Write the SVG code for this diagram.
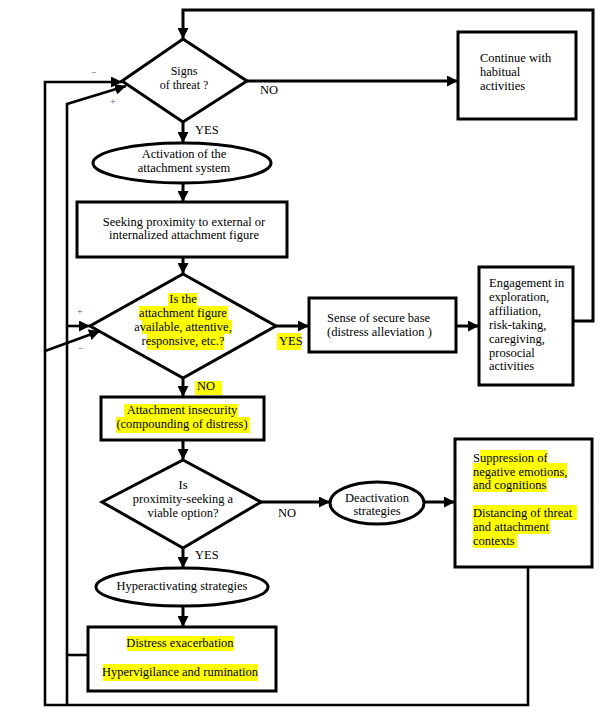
<svg xmlns="http://www.w3.org/2000/svg" width="610" height="718" viewBox="0 0 610 718">
<style>
text{font-family:"Liberation Serif","Times New Roman",serif;font-size:12.5px;fill:#000}
.c{text-anchor:middle}
.s{font-size:12px}
.pm{font-size:10px;fill:#555577}
.shape{fill:#fff;stroke:#000;stroke-width:3}
.hl{fill:#ffff00}
.ln{fill:none;stroke:#000;stroke-width:3}
.fb{fill:none;stroke:#000;stroke-width:2.6}
</style>
<defs>
<marker id="ah" viewBox="0 0 10 10" refX="10" refY="5" markerWidth="11" markerHeight="11" markerUnits="userSpaceOnUse" orient="auto">
<path d="M0,0 L10,5 L0,10 Z" fill="#000"/>
</marker>
</defs>
<rect width="610" height="718" fill="#fff"/>

<g id="connectors">
<path class="ln" d="M573,321 H593 V10 H183 V39" marker-end="url(#ah)"/>
<path class="ln" d="M247,81 H458" marker-end="url(#ah)"/>
<path class="ln" d="M183,122 V143" marker-end="url(#ah)"/>
<path class="ln" d="M183,183 V202" marker-end="url(#ah)"/>
<path class="ln" d="M183,257 V274" marker-end="url(#ah)"/>
<path class="ln" d="M276,326 H309" marker-end="url(#ah)"/>
<path class="ln" d="M456,326 H479" marker-end="url(#ah)"/>
<path class="ln" d="M183,378 V397" marker-end="url(#ah)"/>
<path class="ln" d="M183,440 V460" marker-end="url(#ah)"/>
<path class="ln" d="M261,502 H330" marker-end="url(#ah)"/>
<path class="ln" d="M425,502 H455" marker-end="url(#ah)"/>
<path class="ln" d="M183,548 V568" marker-end="url(#ah)"/>
<path class="ln" d="M183,606 V627" marker-end="url(#ah)"/>
<path class="fb" d="M88,655 H67"/>
<path class="fb" d="M67,705 V104 L126,86" marker-end="url(#ah)"/>
<path class="fb" d="M67,326 H90" marker-end="url(#ah)"/>
<path class="fb" d="M528,567 V705 H45 V82 H122" marker-end="url(#ah)"/>
<path class="fb" d="M45,351 L100,331" marker-end="url(#ah)"/>
<text class="pm" x="91" y="76">−</text>
<text class="pm" x="110" y="105">+</text>
<text class="pm" x="77" y="315">+</text>
<text class="pm" x="78" y="352">−</text>
<text x="260" y="94">NO</text>
<text x="195" y="134">YES</text>
<rect class="hl" x="277" y="333" width="24" height="17"/>
<text x="279" y="345">YES</text>
<rect class="hl" x="195" y="381" width="27" height="14"/>
<text x="197" y="390">NO</text>
<text x="278" y="517">NO</text>
<text x="195" y="559">YES</text>
</g>

<g id="threat">
<polygon class="shape" points="183,39 247,81 183,122 122,81"/>
<text class="c s" x="184" y="75">Signs</text>
<text class="c s" x="184" y="89">of threat ?</text>
</g>

<g id="continue">
<rect class="shape" x="458" y="32" width="118" height="87"/>
<text x="480" y="62">Continue with</text>
<text x="480" y="76">habitual</text>
<text x="480" y="90">activities</text>
</g>

<g id="activation">
<ellipse class="shape" cx="182" cy="163" rx="89" ry="20"/>
<text class="c" x="184" y="158">Activation of the</text>
<text class="c" x="184" y="172">attachment system</text>
</g>

<g id="seeking">
<rect class="shape" x="77" y="202" width="210" height="55"/>
<text class="c" x="184" y="226">Seeking proximity to external or</text>
<text class="c" x="184" y="239">internalized attachment figure</text>
</g>

<g id="available">
<polygon class="shape" points="183,274 276,326 183,378 90,326"/>
<rect class="hl" x="168" y="293" width="29" height="14"/>
<rect class="hl" x="139" y="306" width="89" height="14"/>
<rect class="hl" x="142" y="320" width="90" height="14"/>
<rect class="hl" x="147" y="334" width="77" height="16"/>
<text class="c" x="183" y="303">Is the</text>
<text class="c" x="183" y="317">attachment figure</text>
<text class="c" x="183" y="331">available, attentive,</text>
<text class="c" x="183" y="345">responsive, etc.?</text>
</g>

<g id="secure">
<rect class="shape" x="309" y="298" width="147" height="54"/>
<text x="327" y="322">Sense of secure base</text>
<text x="327" y="336">(distress alleviation )</text>
</g>

<g id="engagement">
<rect class="shape" x="479" y="267" width="94" height="118"/>
<text x="489" y="287">Engagement in</text>
<text x="489" y="301">exploration,</text>
<text x="489" y="315">affiliation,</text>
<text x="489" y="329">risk-taking,</text>
<text x="489" y="343">caregiving,</text>
<text x="489" y="357">prosocial</text>
<text x="489" y="370">activities</text>
</g>

<g id="insecurity">
<rect class="shape" x="101" y="397" width="163" height="43"/>
<rect class="hl" x="124" y="404" width="114" height="14"/>
<rect class="hl" x="116" y="417" width="134" height="16"/>
<text class="c" x="182" y="414">Attachment insecurity</text>
<text class="c" x="182" y="428">(compounding of distress)</text>
</g>

<g id="viable">
<polygon class="shape" points="183,460 261,502 183,548 102,502"/>
<text class="c" x="183" y="489">Is</text>
<text class="c" x="183" y="503">proximity-seeking a</text>
<text class="c" x="183" y="517">viable option?</text>
</g>

<g id="deactivation">
<ellipse class="shape" cx="377" cy="503" rx="47" ry="21"/>
<text class="c" x="377" y="502">Deactivation</text>
<text class="c" x="377" y="515">strategies</text>
</g>

<g id="suppression">
<rect class="shape" x="455" y="439" width="137" height="128"/>
<rect class="hl" x="480" y="450" width="67" height="14"/>
<rect class="hl" x="473" y="463" width="94" height="15"/>
<rect class="hl" x="473" y="477" width="74" height="15"/>
<rect class="hl" x="473" y="505" width="104" height="15"/>
<rect class="hl" x="473" y="519" width="77" height="15"/>
<rect class="hl" x="473" y="533" width="44" height="15"/>
<text x="473" y="462">Suppression of</text>
<text x="473" y="476">negative emotions,</text>
<text x="473" y="489">and cognitions</text>
<text x="473" y="517">Distancing of threat</text>
<text x="473" y="531">and attachment</text>
<text x="473" y="545">contexts</text>
</g>

<g id="hyperactivating">
<ellipse class="shape" cx="182" cy="587" rx="86" ry="19"/>
<text class="c" x="182" y="590">Hyperactivating strategies</text>
</g>

<g id="exacerbation">
<rect class="shape" x="88" y="627" width="188" height="64"/>
<rect class="hl" x="127" y="636" width="107" height="15"/>
<rect class="hl" x="103" y="664" width="155" height="17"/>
<text class="c" x="180" y="647">Distress exacerbation</text>
<text class="c" x="180" y="676">Hypervigilance and rumination</text>
</g>
</svg>
